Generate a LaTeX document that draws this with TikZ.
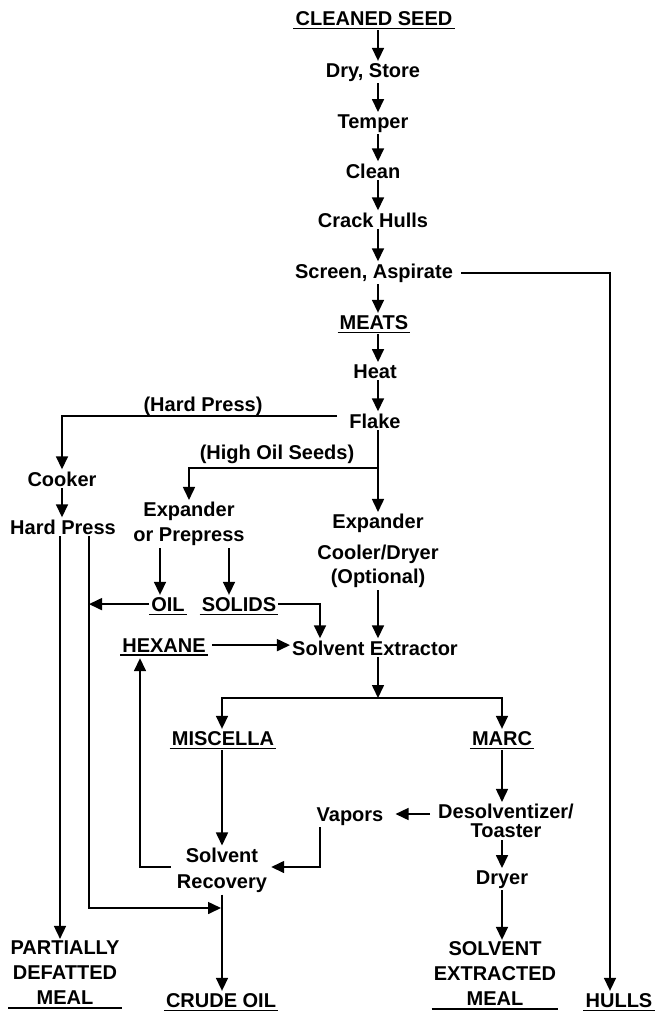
\documentclass[tikz,border=0pt]{standalone}
\usepackage{fontspec}
\setmainfont{Liberation Sans}
\usetikzlibrary{arrows.meta}
\begin{document}
\begin{tikzpicture}[x=1pt,y=-1pt,
  txt/.style={inner sep=2pt, font=\fontsize{20pt}{25pt}\selectfont\bfseries, anchor=base},
  mtxt/.style={inner sep=2pt, align=center, font=\fontsize{20pt}{#1}\selectfont\bfseries, anchor=center},
  ln/.style={line width=1.6pt},
  arr/.style={line width=1.6pt, -{Triangle[width=12pt,length=13pt]}},
  ulstyle/.style={line width=1.8pt}]
\useasboundingbox (0,0) rectangle (654,1013);
\fill[white] (0,0) rectangle (654,1013);
% nodes
\node[txt] (cs) at (374,25) {CLEANED SEED};
\node[txt] (ds) at (373,77) {Dry, Store};
\node[txt] (tp) at (373,128) {Temper};
\node[txt] (cl) at (373,178) {Clean};
\node[txt] (ch) at (373,227) {Crack Hulls};
\node[txt] (sa) at (374,278) {Screen, Aspirate};
\node[txt] (mt) at (374,329) {MEATS};
\node[txt] (ht) at (375,378) {Heat};
\node[txt] (fl) at (375,428) {Flake};
\node[txt] (hpl) at (203,411) {(Hard Press)};
\node[txt] (ck) at (62,486) {Cooker};
\node[txt] (hp) at (63,534) {Hard Press};
\node[txt] (hos) at (277,459) {(High Oil Seeds)};
\node[mtxt=25pt] (exl) at (189,524) {Expander\\or Prepress};
\node[mtxt=24pt] (exr) at (378,551) {Expander\\[7pt]Cooler/Dryer\\(Optional)};
\node[txt] (oil) at (168,611) {OIL};
\node[txt] (sol) at (239,611) {SOLIDS};
\node[txt] (hex) at (164,652) {HEXANE};
\node[txt] (se) at (375,655) {Solvent Extractor};
\node[txt] (mis) at (223,745) {MISCELLA};
\node[txt] (marc) at (502,745) {MARC};
\node[txt] (vap) at (350,821) {Vapors};
\node[mtxt=19pt] (des) at (506,821) {Desolventizer/\\Toaster};
\node[mtxt=26pt] (sr) at (222,870) {Solvent\\Recovery};
\node[txt] (dry) at (502,884) {Dryer};
\node[mtxt=25pt] (sem) at (495,974) {SOLVENT\\EXTRACTED\\MEAL};
\node[mtxt=25pt] (pdm) at (65,973) {PARTIALLY\\DEFATTED\\MEAL};
\node[txt] (crude) at (221,1007) {CRUDE OIL};
\node[txt] (hulls) at (619,1007) {HULLS};
% underlines
\foreach \n in {cs,mt,oil,sol,hex,mis,marc,crude,hulls,pdm,sem}{
  \draw[ulstyle] ([yshift=-1pt]\n.south west) -- ([yshift=-1pt]\n.south east);
}
% helper coordinates
\coordinate (sp) at (378,0);
\coordinate (hx) at (610,0);
\coordinate (c60) at (60,0);
\coordinate (c89) at (89,0);
\coordinate (c140) at (140,0);
\coordinate (c160) at (160,0);
\coordinate (c222) at (222,0);
\coordinate (c229) at (229,0);
\coordinate (c320) at (320,0);
\coordinate (c502) at (502,0);
\coordinate (csb) at ([yshift=-3pt]cs.south);
\coordinate (mtb) at ([yshift=-3pt]mt.south);
\coordinate (misb) at ([yshift=-3pt]mis.south);
\coordinate (marcb) at ([yshift=-3pt]marc.south);
\coordinate (hexb) at ([yshift=-4pt]hex.south);
\coordinate (br1) at (378,468);
\coordinate (sp2) at (378,698);
\coordinate (jn) at (221,908);
\coordinate (flw) at ([xshift=-10pt,yshift=5pt]fl.west);
\coordinate (desw) at ([xshift=-6pt,yshift=7pt]des.west);
\coordinate (vape) at ([xshift=10pt]vap.east);
% main spine
\draw[arr] (csb -| sp) -- (ds.north -| sp);
\draw[arr] (ds.south -| sp) -- (tp.north -| sp);
\draw[arr] (tp.south -| sp) -- (cl.north -| sp);
\draw[arr] (cl.south -| sp) -- (ch.north -| sp);
\draw[arr] (ch.south -| sp) -- (sa.north -| sp);
\draw[arr] (sa.south -| sp) -- (mt.north -| sp);
\draw[arr] (mtb -| sp) -- (ht.north -| sp);
\draw[arr] (ht.south -| sp) -- (fl.north -| sp);
% hulls
\draw[arr] ([xshift=6pt]sa.east) -| (hulls.north -| hx);
% hard press branch
\draw[arr] (flw) -| (ck.north);
\draw[arr] (ck.south) -- (ck.south |- hp.north);
\draw[arr] (hp.south -| c60) -- (pdm.north -| c60);
\draw[arr] (hp.south -| c89) |- (jn);
% high oil seeds branch
\draw[arr] (fl.south -| sp) -- (exr.north -| sp);
\draw[arr] (br1) -| (exl.north);
\draw[arr] (exl.south -| c160) -- (oil.north -| c160);
\draw[arr] (exl.south -| c229) -- (sol.north -| c229);
\draw[arr] (oil.west) -- (oil.west -| c89);
\draw[arr] (sol.east) -| (se.north -| c320);
% extractor
\draw[arr] (exr.south -| sp) -- (se.north -| sp);
\draw[arr] ([xshift=4pt]hex.east) -- (hex.east -| se.west);
\draw[arr] (se.south -| sp) -- (sp2);
\draw[arr] (sp2) -| (mis.north -| c222);
\draw[arr] (sp2) -| (marc.north -| c502);
% miscella side
\draw[arr] (misb -| c222) -- (sr.north -| c222);
\draw[arr] ([xshift=-4pt,yshift=3pt]sr.west) -| (hexb -| c140);
\draw[arr] (sr.south -| c222) -- (crude.north -| c222);
% marc side
\draw[arr] (marcb -| c502) -- (des.north -| c502);
\draw[arr] (desw) -- (desw -| vape);
\draw[arr] (vap.south -| c320) |- ([xshift=2pt,yshift=3pt]sr.east);
\draw[arr] (des.south -| c502) -- (dry.north -| c502);
\draw[arr] (dry.south -| c502) -- (sem.north -| c502);
\end{tikzpicture}
\end{document}
